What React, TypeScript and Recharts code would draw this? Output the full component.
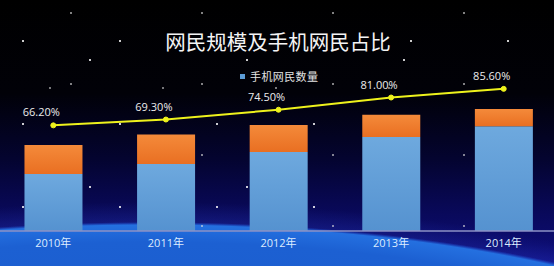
import { ComposedChart, Bar, Line, XAxis, YAxis, Legend, LabelList } from "recharts";

// 网民规模 / 手机网民 (亿人), 手机网民占比 (%)
const years = ["2010年", "2011年", "2012年", "2013年", "2014年"];
const netizens = [4.57, 5.13, 5.64, 6.18, 6.49];
const mobileUsers = [3.03, 3.56, 4.2, 5.0, 5.57];
const mobileShare = [66.2, 69.3, 74.5, 81.0, 85.6];

const data = years.map((year, i) => ({
  year,
  mobile: mobileUsers[i],
  rest: +(netizens[i] - mobileUsers[i]).toFixed(2),
  share: mobileShare[i],
}));

const FONT = '"Open Sans", "Noto Sans CJK SC", sans-serif';

// decorative star texture
const stars = [
  "radial-gradient(1.2px 1.2px at 23px 41px, #fff 60%, transparent)",
  "radial-gradient(1px 1px at 71px 13px, #ddd 60%, transparent)",
  "radial-gradient(1px 1px at 50px 88px, #ccc 60%, transparent)",
  "radial-gradient(1.5px 1.5px at 90px 60px, #fff 60%, transparent)",
].join(", ");

const earth =
  "radial-gradient(ellipse 673px 200px at 150px 422px, #1a58c8 0%, #1c60d2 90%, #2470e0 98.5%, rgba(30,90,220,0.35) 99.5%, rgba(20,40,170,0) 100%)";
const haze =
  "radial-gradient(ellipse 720px 230px at 150px 432px, rgba(40,60,190,0.45) 85%, rgba(20,20,120,0) 100%)";
const sky = "linear-gradient(to bottom, #000 0%, #010108 35%, #040430 60%, #09095a 80%, #0c0c70 92%, #12128a 100%)";

function ShareLabel(props: any) {
  const { x, y, value } = props;
  return (
    <text x={x - 12} y={y - 9} textAnchor="middle" fill="#ececec" fontSize={11} fontFamily={FONT}>
      {value.toFixed(2)}%
    </text>
  );
}

function LegendBox() {
  return (
    <div style={{ display: "flex", alignItems: "center", fontFamily: FONT, fontSize: 11, color: "#e4e4e4", letterSpacing: 0.4 }}>
      <span style={{ width: 5, height: 5, background: "#5b9bd5", marginRight: 5 }} />
      手机网民数量
    </div>
  );
}

export default function App() {
  return (
    <div
      style={{
        position: "absolute",
        top: 0,
        left: 0,
        width: 554,
        height: 266,
        overflow: "hidden",
        background: `${earth}, ${haze}, ${sky}`,
      }}
    >
      <div style={{ position: "absolute", inset: 0, backgroundImage: stars, backgroundSize: "97px 83px, 131px 71px, 113px 109px, 157px 127px", opacity: 0.8 }} />
      <div
        style={{
          position: "absolute",
          top: 27,
          left: 0,
          width: 556,
          textAlign: "center",
          color: "#f4f4f4",
          fontFamily: '"Noto Sans CJK SC", sans-serif',
          fontWeight: 400,
          fontSize: 20.5,
          lineHeight: "28px",
        }}
      >
        网民规模及手机网民占比
      </div>
      <div style={{ position: "absolute", top: 0, left: -3 }}>
        <ComposedChart width={563} height={266} data={data} margin={{ top: 80.6, right: 0, bottom: 5, left: 0 }} barCategoryGap="24.4%">
          <defs>
            <linearGradient id="gBlue" x1="0" y1="0" x2="0" y2="1">
              <stop offset="0%" stopColor="#6ea9de" />
              <stop offset="100%" stopColor="#5592d0" />
            </linearGradient>
            <linearGradient id="gOrange" x1="0" y1="0" x2="0" y2="1">
              <stop offset="0%" stopColor="#f48a3a" />
              <stop offset="100%" stopColor="#e96f22" />
            </linearGradient>
          </defs>
          <XAxis
            dataKey="year"
            height={30}
            tickLine={false}
            axisLine={{ stroke: "#8d92c6", strokeWidth: 1.5 }}
            tick={{ fill: "#dcecff", fontSize: 11, fontFamily: FONT }}
          />
          <YAxis yAxisId="left" domain={[0, 8]} hide />
          <YAxis yAxisId="right" orientation="right" domain={[10, 90]} hide />
          <Legend
            verticalAlign="middle"
            align="center"
            content={<LegendBox />}
            wrapperStyle={{ top: 68, left: 243, width: "auto" }}
          />
          <Bar yAxisId="left" dataKey="mobile" stackId="a" fill="url(#gBlue)" isAnimationActive={false} />
          <Bar yAxisId="left" dataKey="rest" stackId="a" fill="url(#gOrange)" legendType="none" isAnimationActive={false} />
          <Line
            yAxisId="right"
            dataKey="share"
            stroke="#eef21c"
            strokeWidth={2}
            dot={{ r: 2.5, fill: "#eef21c", stroke: "#eef21c", strokeWidth: 1 }}
            legendType="none"
            isAnimationActive={false}
          >
            <LabelList dataKey="share" content={<ShareLabel />} />
          </Line>
        </ComposedChart>
      </div>
    </div>
  );
}
